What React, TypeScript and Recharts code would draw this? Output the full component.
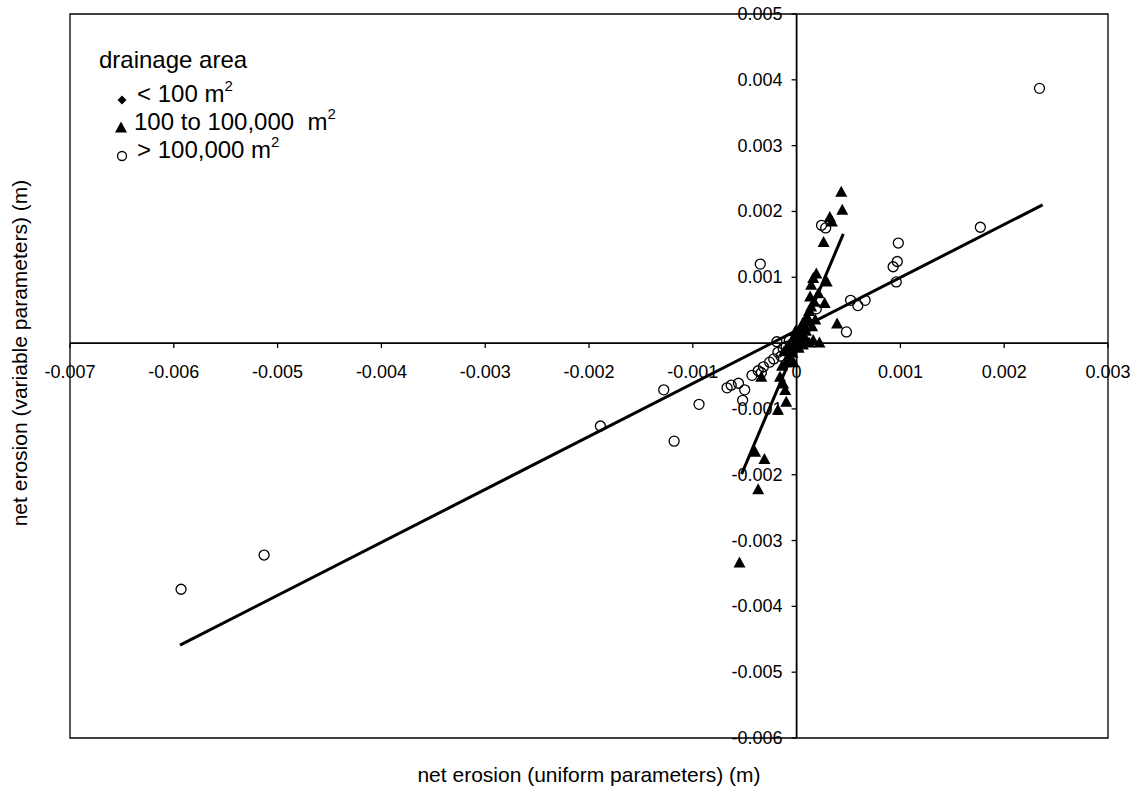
import { ScatterChart, Scatter, XAxis, YAxis, ReferenceLine, ReferenceArea, ReferenceDot } from "recharts";

// axis ticks
const xTicks = [-0.007, -0.006, -0.005, -0.004, -0.003, -0.002, -0.001, 0, 0.001, 0.002, 0.003];
const xTickLabels = ["-0.007", "-0.006", "-0.005", "-0.004", "-0.003", "-0.002", "-0.001", "0", "0.001", "0.002", "0.003"];
const yTicks = [0.005, 0.004, 0.003, 0.002, 0.001, -0.001, -0.002, -0.003, -0.004, -0.005, -0.006];
const yTickLabels = ["0.005", "0.004", "0.003", "0.002", "0.001", "-0.001", "-0.002", "-0.003", "-0.004", "-0.005", "-0.006"];

// drainage area < 100 m2
const smallArea = [
  { x: 0.00001, y: 0.00002 },
  { x: -0.00002, y: -0.00001 },
  { x: 0.00003, y: 0.00006 },
  { x: -0.00001, y: 0.00003 },
  { x: 0.00002, y: -0.00002 },
];

// drainage area 100 to 100,000 m2
const midArea = [
  { x: 0.00043, y: 0.00229 }, { x: 0.00044, y: 0.00202 }, { x: 0.00032, y: 0.00191 },
  { x: 0.00034, y: 0.00184 }, { x: 0.00026, y: 0.00153 }, { x: 0.00019, y: 0.00105 },
  { x: 0.00016, y: 0.00098 }, { x: 0.00014, y: 0.00088 }, { x: 0.00029, y: 0.00093 },
  { x: 0.00027, y: 0.0006 }, { x: 0.00039, y: 0.00029 }, { x: 0.00021, y: 0.00075 },
  { x: 0.00013, y: 0.0007 }, { x: 0.00014, y: 0.00055 }, { x: 0.0001, y: 0.0004 },
  { x: 0.00008, y: 0.00024 }, { x: 0.00005, y: 0.00014 }, { x: 0.00022, y: 0.0 },
  { x: 0.00016, y: 0.00004 }, { x: 0.00012, y: 0.0 }, { x: 0.00008, y: 0.00008 },
  { x: 0.00003, y: 0.00005 }, { x: 0.0, y: 0.0001 }, { x: -0.00002, y: -0.00005 },
  { x: -0.00005, y: -0.0001 }, { x: -0.00008, y: -0.0002 }, { x: -0.0001, y: -0.0003 },
  { x: -0.00004, y: -0.00015 }, { x: 0.00002, y: -0.00008 }, { x: -0.00006, y: -0.00011 },
  { x: 0.00006, y: 0.0003 }, { x: 0.00011, y: 0.00032 }, { x: 0.00004, y: 0.00022 },
  { x: -0.00001, y: 0.00018 }, { x: 0.00009, y: 0.00018 }, { x: 0.00015, y: 0.00025 },
  { x: -0.00003, y: 0.00008 }, { x: 0.00006, y: -0.00003 }, { x: -0.00008, y: -0.00004 },
  { x: -0.00012, y: -0.00013 }, { x: -0.00007, y: -0.00025 }, { x: -0.00014, y: -0.00035 },
  { x: -0.00003, y: -0.0003 }, { x: 0.00018, y: 0.00035 }, { x: 0.00012, y: 0.00048 },
  { x: 0.00017, y: 0.00062 },
  { x: -0.00034, y: -0.00052 }, { x: -0.00016, y: -0.00052 }, { x: -0.00013, y: -0.00062 },
  { x: -0.00011, y: -0.00072 }, { x: -0.0001, y: -0.0009 }, { x: -0.00018, y: -0.00102 },
  { x: -0.0004, y: -0.00166 }, { x: -0.00031, y: -0.00177 }, { x: -0.00037, y: -0.00223 },
  { x: -0.00055, y: -0.00334 },
];

// drainage area > 100,000 m2
const largeArea = [
  { x: -0.00593, y: -0.00374 }, { x: -0.00513, y: -0.00322 }, { x: -0.00189, y: -0.00126 },
  { x: -0.00118, y: -0.00149 }, { x: -0.00128, y: -0.00071 }, { x: -0.00094, y: -0.00093 },
  { x: -0.00067, y: -0.00068 }, { x: -0.00063, y: -0.00064 }, { x: -0.00056, y: -0.00061 },
  { x: -0.0005, y: -0.00071 }, { x: -0.00052, y: -0.00087 }, { x: -0.00043, y: -0.00049 },
  { x: -0.00037, y: -0.00042 }, { x: -0.00032, y: -0.00036 }, { x: -0.00034, y: -0.00045 },
  { x: -0.00026, y: -0.00029 }, { x: -0.00022, y: -0.00024 }, { x: -0.00018, y: -0.00014 },
  { x: -0.00019, y: 0.00002 }, { x: -0.00035, y: 0.0012 }, { x: 0.00024, y: 0.00179 },
  { x: 0.00028, y: 0.00175 }, { x: 0.00019, y: 0.00052 }, { x: 0.00052, y: 0.00065 },
  { x: 0.00059, y: 0.00057 }, { x: 0.00066, y: 0.00065 }, { x: 0.00048, y: 0.00017 },
  { x: 0.00096, y: 0.00093 }, { x: 0.00093, y: 0.00116 }, { x: 0.00097, y: 0.00124 },
  { x: 0.00098, y: 0.00152 }, { x: 0.00177, y: 0.00176 }, { x: 0.00234, y: 0.00387 },
  { x: -0.0001, y: -0.00005 }, { x: 0.00005, y: 0.0002 }, { x: -0.00013, y: -0.00008 },
  { x: -0.00007, y: 0.00004 }, { x: 0.00003, y: 0.00012 }, { x: -0.00015, y: -0.0002 },
];

// fitted lines
const fitLarge = [
  { x: -0.00594, y: -0.00459 },
  { x: 0.00237, y: 0.0021 },
];
const fitMid = [
  { x: -0.00053, y: -0.00199 },
  { x: 0.00045, y: 0.00166 },
];

const font = "'Liberation Sans', Arial, sans-serif";

const Triangle = (p: any) => (
  <polygon
    points={`${p.cx},${p.cy - 6.5} ${p.cx - 6},${p.cy + 4.5} ${p.cx + 6},${p.cy + 4.5}`}
    fill="#000"
  />
);
const Circle = (p: any) => <circle cx={p.cx} cy={p.cy} r={5} fill="none" stroke="#000" strokeWidth={1.3} />;
const Diamond = (p: any) => (
  <polygon points={`${p.cx},${p.cy - 4.5} ${p.cx + 4.5},${p.cy} ${p.cx},${p.cy + 4.5} ${p.cx - 4.5},${p.cy}`} fill="#000" />
);

const App = () => {
  return (
    <div style={{ position: "absolute", left: 0, top: 0, width: 1139, height: 794, background: "#fff", fontFamily: font }}>
      <ScatterChart width={1139} height={794} margin={{ top: 14, right: 31, bottom: 56, left: 70 }}>
        <XAxis type="number" dataKey="x" domain={[-0.007, 0.003]} ticks={xTicks} hide allowDataOverflow />
        <YAxis type="number" dataKey="y" domain={[-0.006, 0.005]} ticks={yTicks} hide allowDataOverflow />
        <ReferenceArea x1={-0.007} x2={0.003} y1={-0.006} y2={0.005} fill="none" fillOpacity={0} stroke="#000" strokeWidth={1.3} />
        <ReferenceLine x={0} stroke="#000" strokeWidth={1.8} />
        <ReferenceLine y={0} stroke="#000" strokeWidth={1.8} />
        {xTicks.map((v, i) => (
          <ReferenceDot
            key={"xt" + i}
            x={v}
            y={0}
            r={0}
            ifOverflow="visible"
            shape={(p: any) => (
              <g>
                <line x1={p.cx} y1={p.cy} x2={p.cx} y2={p.cy + 5} stroke="#000" strokeWidth={1.3} />
                <text x={p.cx} y={p.cy + 35} textAnchor="middle" fontSize={18} fontFamily={font} fill="#000">
                  {xTickLabels[i]}
                </text>
              </g>
            )}
          />
        ))}
        {yTicks.map((v, i) => (
          <ReferenceDot
            key={"yt" + i}
            x={0}
            y={v}
            r={0}
            ifOverflow="visible"
            shape={(p: any) => (
              <g>
                <line x1={p.cx - 5} y1={p.cy} x2={p.cx} y2={p.cy} stroke="#000" strokeWidth={1.3} />
                <text x={p.cx - 14} y={p.cy + 6} textAnchor="end" fontSize={18} fontFamily={font} fill="#000">
                  {yTickLabels[i]}
                </text>
              </g>
            )}
          />
        ))}
        <Scatter data={largeArea} shape={Circle} isAnimationActive={false} />
        <Scatter data={midArea} shape={Triangle} isAnimationActive={false} />
        <Scatter data={smallArea} shape={Diamond} isAnimationActive={false} />
        <ReferenceLine segment={fitLarge} stroke="#000" strokeWidth={3} />
        <ReferenceLine segment={fitMid} stroke="#000" strokeWidth={3} />
      </ScatterChart>

      {/* axis titles */}
      <div style={{ position: "absolute", left: 389, width: 400, top: 763, textAlign: "center", fontSize: 21, whiteSpace: "nowrap" }}>
        net erosion (uniform parameters) (m)
      </div>
      <div
        style={{
          position: "absolute",
          left: 20,
          top: 353,
          transform: "translate(-50%, -50%) rotate(-90deg)",
          fontSize: 21,
          whiteSpace: "nowrap",
        }}
      >
        net erosion (variable parameters) (m)
      </div>

      {/* legend */}
      <svg style={{ position: "absolute", left: 0, top: 0 }} width={400} height={200}>
        <g fontFamily={font} fill="#000">
          <text x={99} y={68} fontSize={24}>drainage area</text>
          <Diamond cx={122} cy={100} />
          <text x={137} y={102} fontSize={24}>
            {"< 100 m"}
            <tspan fontSize={15} dy={-11}>2</tspan>
          </text>
          <Triangle cx={121} cy={128} />
          <text x={134} y={130} fontSize={24} xmlSpace="preserve">
            {"100 to 100,000  m"}
            <tspan fontSize={15} dy={-11}>2</tspan>
          </text>
          <circle cx={122} cy={156} r={4.5} fill="none" stroke="#000" strokeWidth={1.3} />
          <text x={137} y={158} fontSize={24}>
            {"> 100,000 m"}
            <tspan fontSize={15} dy={-11}>2</tspan>
          </text>
        </g>
      </svg>
    </div>
  );
};

export default App;
